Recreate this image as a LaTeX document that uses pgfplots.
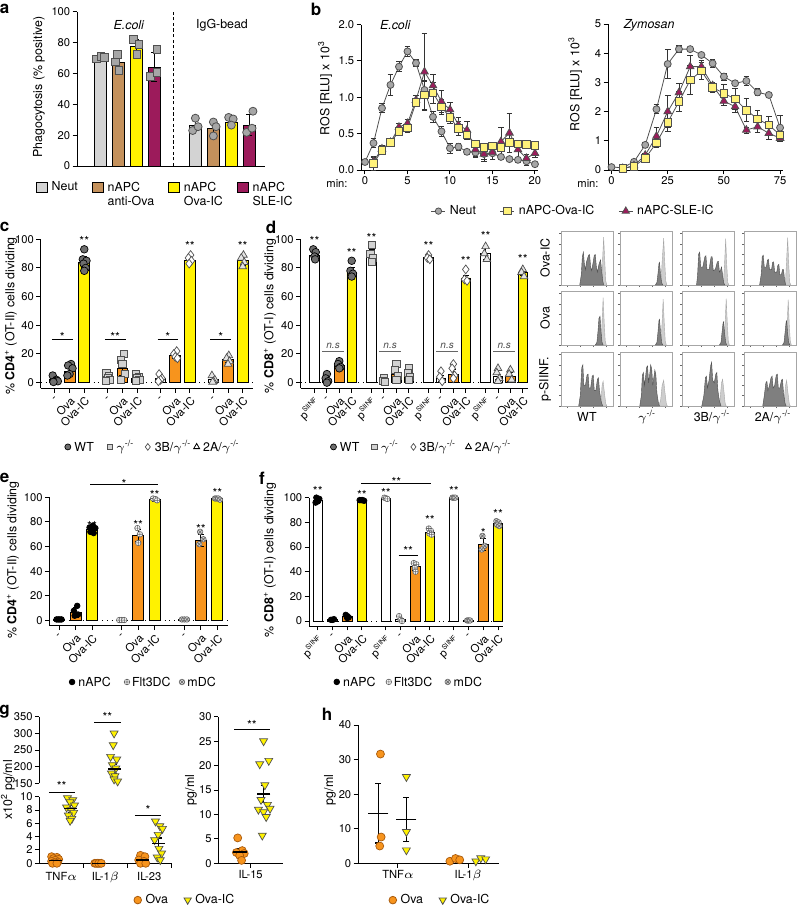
\documentclass[border=0pt]{standalone}
\usepackage{pgfplots}
\pgfplotsset{compat=1.18}
\usepackage{fontspec}
\setmainfont{TeX Gyre Heros}

\definecolor{neut}{HTML}{D3D3D3}
\definecolor{tanb}{HTML}{C4915C}
\definecolor{ylw}{HTML}{FFF200}
\definecolor{sle}{HTML}{9C1B5B}
\definecolor{org}{HTML}{F7941D}
\definecolor{orgd}{HTML}{A85A0C}
\definecolor{lyel}{HTML}{FFF27A}
\definecolor{ptg}{HTML}{A6A6A6}
\definecolor{dkg}{HTML}{505050}
\definecolor{wtg}{HTML}{6E6E6E}
\definecolor{lg}{HTML}{D2D2D2}
\definecolor{hdk}{HTML}{7F7F7F}
\definecolor{hlt}{HTML}{CDCDCD}

\newcommand{\fs}{\fontsize{6.2}{7.2}\selectfont}
\newcommand{\tfs}{\fontsize{5.6}{6.6}\selectfont}
\newcommand{\ko}{$\gamma$\textsuperscript{-/-}}
\newcommand{\pS}{p\textsuperscript{\fontsize{3.4}{4}\selectfont SIINF}}

\tikzset{sig/.style={font=\fs, anchor=base, inner sep=0pt},
  ns/.style={font=\fontsize{5}{6}\selectfont\itshape, anchor=base, inner sep=0pt, text=black!70},
  lt/.style={font=\fs, anchor=west, inner sep=0pt}}

\pgfplotsset{
 base/.style={scale only axis, clip=false,
  axis x line*=bottom, axis y line*=left,
  axis line style={line width=0.5pt, black},
  tick align=outside, major tick length=2.2pt,
  every tick/.append style={black, line width=0.5pt},
  tick label style={font=\tfs, inner sep=1pt},
  /pgf/number format/assume math mode=true,
  legend style={draw=none, fill=none, font=\fs, inner sep=0pt, outer sep=0pt},
  legend cell align=left,
  legend image code/.code={\draw[mark repeat=2,mark phase=2,##1] plot coordinates {(0pt,0pt)(3.5pt,0pt)(7pt,0pt)};},
 },
 bar/.style={ybar, bar shift=0pt, draw=black, line width=0.45pt,
  error bars/y dir=both, error bars/y explicit,
  error bars/error bar style={black, line width=0.45pt},
  error bars/error mark options={rotate=90, black, mark size=1.5pt, line width=0.45pt}},
 errs/.style={error bars/y dir=both, error bars/y explicit,
  error bars/error bar style={black!80, line width=0.4pt},
  error bars/error mark options={rotate=90, black!80, mark size=1.4pt, line width=0.4pt}},
 meanbar/.style={only marks, mark=-, mark options={black, line width=0.6pt},
  error bars/y dir=both, error bars/y explicit,
  error bars/error bar style={black, line width=0.6pt},
  error bars/error mark options={rotate=90, black, mark size=1.5pt, line width=0.6pt}},
 hist/.style={scale only axis, width=26pt, height=27pt, xmin=0, xmax=100, ymin=0, ymax=105,
  anchor=south west, axis line style={black!35, line width=0.3pt},
  xtick={12,37,62,87}, ytick={0,20,...,100}, xticklabels={}, yticklabels={},
  xtick pos=left, ytick pos=left, tick align=outside, major tick length=1pt,
  every tick/.append style={black!60, line width=0.25pt}},
 wt/.style={only marks, mark=*, mark size=1.9pt, mark options={fill=wtg, draw=black, line width=0.35pt}},
 gko/.style={only marks, mark=square*, mark size=1.8pt, mark options={fill=lg, draw=dkg, line width=0.35pt}},
 tb/.style={only marks, mark=diamond*, mark size=2.2pt, mark options={fill=white, draw=dkg, line width=0.35pt}},
 ta/.style={only marks, mark=triangle*, mark size=2.2pt, mark options={fill=lg!60!white, draw=dkg, line width=0.35pt}},
 napc/.style={only marks, mark=*, mark size=1.4pt, mark options={fill=black, draw=black}},
 flt/.style={only marks, mark=oplus*, mark size=1.4pt, mark options={fill=white, draw=black!60, line width=0.3pt}},
 mdc/.style={only marks, mark=otimes*, mark size=1.4pt, mark options={fill=lg, draw=black!60, line width=0.3pt}},
 ova/.style={only marks, mark=*, mark size=2pt, mark options={fill=org, draw=orgd, line width=0.35pt}},
 ovaic/.style={only marks, mark=triangle*, mark size=2.3pt, mark options={rotate=180, fill=ylw, draw=dkg, line width=0.35pt}},
}

\newcommand{\hist}[4]{%
 \begin{axis}[hist, at={(#1pt,#2pt)}]
  \addplot[fill=hlt, draw=black!35, line width=0.2pt] coordinates {#3} \closedcycle;
  \addplot[fill=hdk, draw=black!70, line width=0.2pt] coordinates {#4} \closedcycle;
 \end{axis}}

\begin{document}
\begin{tikzpicture}
\path[use as bounding box] (0,0) rectangle (399pt,-452.5pt);

% panel letters
\foreach \l/\x/\y in {a/2.3/-4.5, b/158/-4.5, c/2.3/-113.5, d/135.5/-113.5, e/2.3/-239, f/131/-239, g/2.3/-356, h/163.5/-357}
  \node[font=\bfseries\fontsize{8.5}{9}\selectfont, inner sep=0pt] at (\x pt,\y pt) {\l};

% ---------------- panel a ----------------
\node[rotate=90, font=\fs] at (19.5pt,-43.5pt) {Phagocytosis (\% positive)};
\begin{axis}[base, at={(38.5pt,-83pt)}, anchor=south west, width=94pt, height=77.15pt,
  xmin=-1.28, xmax=9.17, ymin=0, ymax=100, xtick=\empty, ytick={0,20,...,100},
  legend columns=4,
  legend style={at={(-0.218,-0.071)}, anchor=north west, /tikz/every even column/.append style={column sep=5pt}}]
\addplot[bar, bar width=6pt, fill=neut, forget plot] coordinates {(0,70) +- (0,1) (5.3,26.5) +- (0,3.5)};
\addplot[bar, bar width=6pt, fill=tanb, forget plot] coordinates {(1,67) +- (0,4.5) (6.3,24.5) +- (0,4.5)};
\addplot[bar, bar width=6pt, fill=ylw, forget plot] coordinates {(2,77.5) +- (0,4.5) (7.3,28.5) +- (0,2.5)};
\addplot[bar, bar width=6pt, fill=sle, forget plot] coordinates {(3,64) +- (0,9.5) (8.3,26.5) +- (0,7)};
\addplot[only marks, mark=square*, mark size=1.9pt, mark options={fill=ptg, draw=dkg, line width=0.4pt}, forget plot]
  coordinates {(-0.2,69.5)(0.05,71.2)(0.25,70.3) (0.95,72.5)(0.85,67.5)(1.05,62) (1.85,82)(2.15,79)(2.05,72.5) (3.15,75.5)(2.8,58)(3.15,60.5)};
\addplot[only marks, mark=*, mark size=2pt, mark options={fill=ptg, draw=dkg, line width=0.4pt}, forget plot]
  coordinates {(5.3,31)(5.15,23)(5.45,25.5) (6.3,28.5)(6.45,25.5)(6.3,19.5) (7.15,31.5)(7.4,30.5)(7.3,26.5) (8.5,35.5)(8.15,21.8)(8.45,24.5)};
\draw[black, line width=0.45pt, dash pattern=on 1.6pt off 1.2pt] (axis cs:4.06,0) -- (axis cs:4.06,100);
\node[font=\fs\itshape] at (axis cs:1.6,91.4) {E.coli};
\node[font=\fs] at (axis cs:6.78,91.4) {IgG-bead};
\addlegendimage{legend image code/.code={\draw[fill=neut,draw=black,line width=0.45pt] (0pt,-2.7pt) rectangle (5.4pt,2.7pt);}}
\addlegendentry{Neut}
\addlegendimage{legend image code/.code={\draw[fill=tanb,draw=black,line width=0.45pt] (0pt,-2.7pt) rectangle (5.4pt,2.7pt);}}
\addlegendentry{\begin{tabular}[t]{@{}l@{}}nAPC\\anti-Ova\end{tabular}}
\addlegendimage{legend image code/.code={\draw[fill=ylw,draw=black,line width=0.45pt] (0pt,-2.7pt) rectangle (5.4pt,2.7pt);}}
\addlegendentry{\begin{tabular}[t]{@{}l@{}}nAPC\\Ova-IC\end{tabular}}
\addlegendimage{legend image code/.code={\draw[fill=sle,draw=black,line width=0.45pt] (0pt,-2.7pt) rectangle (5.4pt,2.7pt);}}
\addlegendentry{\begin{tabular}[t]{@{}l@{}}nAPC\\SLE-IC\end{tabular}}
\end{axis}

% ---------------- panel b ----------------
\node[rotate=90, font=\fs] at (162.5pt,-44pt) {ROS [RLU] x 10\textsuperscript{3}};
\node[font=\tfs] at (168.5pt,-92pt) {min:};
\begin{axis}[base, at={(180.5pt,-85pt)}, anchor=south west, width=88.25pt, height=72.75pt,
  xmin=-0.47, xmax=20.3, ymin=0, ymax=2, xtick={0,5,...,20}, ytick={0,0.5,...,2},
  y tick label style={/pgf/number format/fixed, /pgf/number format/fixed zerofill, /pgf/number format/precision=1},
  legend columns=3,
  legend style={at={(0.397,-0.213)}, anchor=north west, /tikz/every even column/.append style={column sep=10pt}}]
\addplot[forget plot, dkg, line width=0.4pt, mark=*, mark size=1.75pt, mark options={fill=ptg, draw=dkg, solid}, errs] coordinates {
(0,0.11)+-(0,0.02) (1,0.37)+-(0,0.06) (2,0.85)+-(0,0.06) (3,1.17)+-(0,0.15) (4,1.42)+-(0,0.07) (5,1.63)+-(0,0.07) (6,1.47)+-(0,0.05) (7,1.1)+-(0,0.12) (8,0.73)+-(0,0.07) (9,0.53)+-(0,0.07) (10,0.3)+-(0,0.07) (11,0.32)+-(0,0.05) (12,0.25)+-(0,0.04) (13,0.24)+-(0,0.05) (14,0.22)+-(0,0.08) (15,0.23)+-(0,0.08) (16,0.18)+-(0,0.03) (17,0.15)+-(0,0.03) (18,0.14)+-(0,0.03) (19,0.12)+-(0,0.05) (20,0.08)+-(0,0.03)};
\addplot[forget plot, dkg, line width=0.4pt, mark=triangle*, mark size=2.2pt, mark options={fill=sle, draw=dkg, solid}, errs] coordinates {
(1,0.12)+-(0,0.05) (2,0.29)+-(0,0.05) (3,0.38)+-(0,0.04) (4,0.59)+-(0,0.05) (5,0.64)+-(0,0.05) (6,0.96)+-(0,0.06) (7,1.35)+-(0,0.53) (8,1.16)+-(0,0.15) (9,0.94)+-(0,0.15) (10,0.83)+-(0,0.1) (11,0.62)+-(0,0.1) (12,0.55)+-(0,0.12) (13,0.28)+-(0,0.1) (14,0.22)+-(0,0.1) (15,0.24)+-(0,0.1) (16,0.39)+-(0,0.2) (17,0.51)+-(0,0.27) (18,0.28)+-(0,0.1) (19,0.16)+-(0,0.05) (20,0.23)+-(0,0.06)};
\addplot[forget plot, dkg, line width=0.4pt, mark=square*, mark size=1.9pt, mark options={fill=lyel, draw=dkg, solid}, errs] coordinates {
(1,0.09)+-(0,0.1) (2,0.27)+-(0,0.05) (3,0.38)+-(0,0.04) (4,0.53)+-(0,0.04) (5,0.58)+-(0,0.06) (6,0.93)+-(0,0.05) (7,1.03)+-(0,0.2) (8,1.06)+-(0,0.15) (9,0.87)+-(0,0.1) (10,0.72)+-(0,0.08) (11,0.57)+-(0,0.1) (12,0.48)+-(0,0.06) (13,0.36)+-(0,0.05) (14,0.31)+-(0,0.04) (15,0.33)+-(0,0.04) (16,0.31)+-(0,0.05) (17,0.38)+-(0,0.05) (18,0.36)+-(0,0.05) (19,0.35)+-(0,0.04) (20,0.34)+-(0,0.05)};
\node[font=\fs\itshape, anchor=west] at (axis cs:0.94,1.99) {E.coli};
\addlegendimage{dkg, line width=0.4pt, mark=*, mark size=1.6pt, mark options={fill=ptg, draw=dkg}}
\addlegendentry{Neut}
\addlegendimage{dkg, line width=0.4pt, mark=square*, mark size=1.8pt, mark options={fill=lyel, draw=dkg}}
\addlegendentry{nAPC-Ova-IC}
\addlegendimage{dkg, line width=0.4pt, mark=triangle*, mark size=2.1pt, mark options={fill=sle, draw=dkg}}
\addlegendentry{nAPC-SLE-IC}
\end{axis}

\node[rotate=90, font=\fs] at (287.5pt,-42pt) {ROS [RLU] x 10\textsuperscript{3}};
\node[font=\tfs] at (294pt,-92pt) {min:};
\begin{axis}[base, at={(304pt,-85pt)}, anchor=south west, width=87.5pt, height=73pt,
  xmin=-1.56, xmax=76.3, ymin=0, ymax=5, xtick={0,25,50,75}, ytick={0,1,...,5}]
\addplot[forget plot, dkg, line width=0.4pt, mark=*, mark size=1.75pt, mark options={fill=ptg, draw=dkg, solid}, errs] coordinates {
(0,0.1)+-(0,0.02) (5,0.08)+-(0,0.02) (10,0.28)+-(0,0.05) (15,0.86)+-(0,0.08) (20,2.08)+-(0,0.15) (25,3.63)+-(0,0.5) (30,4.14)+-(0,0.12) (35,4.14)+-(0,0.05) (40,3.94)+-(0,0.08) (45,3.65)+-(0,0.15) (50,3.2)+-(0,0.12) (55,2.97)+-(0,0.06) (60,3.05)+-(0,0.15) (65,2.66)+-(0,0.12) (70,2.57)+-(0,0.05) (75,1.45)+-(0,0.42)};
\addplot[forget plot, dkg, line width=0.4pt, mark=triangle*, mark size=2.2pt, mark options={fill=sle, draw=dkg, solid}, errs] coordinates {
(5,0.05)+-(0,0.02) (10,0.15)+-(0,0.05) (15,0.51)+-(0,0.06) (20,1.16)+-(0,0.3) (25,2.0)+-(0,0.55) (30,2.65)+-(0,0.3) (35,3.54)+-(0,0.4) (40,3.54)+-(0,0.2) (45,2.89)+-(0,0.1) (50,2.36)+-(0,0.15) (55,2.17)+-(0,0.2) (60,1.37)+-(0,0.1) (65,1.48)+-(0,0.2) (70,1.26)+-(0,0.2) (75,1.09)+-(0,0.1)};
\addplot[forget plot, dkg, line width=0.4pt, mark=square*, mark size=1.9pt, mark options={fill=lyel, draw=dkg, solid}, errs] coordinates {
(5,0.05)+-(0,0.02) (10,0.13)+-(0,0.05) (15,0.4)+-(0,0.08) (20,0.93)+-(0,0.15) (25,1.63)+-(0,0.3) (30,2.34)+-(0,0.35) (35,3.08)+-(0,0.5) (40,3.39)+-(0,0.3) (45,2.82)+-(0,0.15) (50,2.63)+-(0,0.3) (55,2.43)+-(0,0.35) (60,2.05)+-(0,0.4) (65,1.75)+-(0,0.3) (70,1.54)+-(0,0.3) (75,1.2)+-(0,0.2)};
\node[font=\fs\itshape, anchor=west] at (axis cs:2.4,4.97) {Zymosan};
\end{axis}

% ---------------- panel c ----------------
\node[rotate=90, font=\fs] at (5.5pt,-158pt) {\% \textbf{CD4}\textsuperscript{+} (OT-II) cells dividing};
\begin{axis}[base, at={(20.35pt,-194.2pt)}, anchor=south west, width=106.15pt, height=74.57pt,
  xmin=-0.97, xmax=13.5, ymin=-4, ymax=100, ytick={0,20,...,100},
  xtick={0,1,2,3.6,4.6,5.6,7.2,8.2,9.2,10.8,11.8,12.8},
  xticklabels={-,Ova,Ova-IC,-,Ova,Ova-IC,-,Ova,Ova-IC,-,Ova,Ova-IC},
  xticklabel style={rotate=45, anchor=north east, inner sep=1pt}]
\draw[black, line width=0.4pt, dotted] (axis cs:-0.97,0) -- (axis cs:13.5,0);
\addplot[bar, bar width=5.35pt, fill=white, forget plot] coordinates {(0,2)+-(0,1.5) (3.6,4)+-(0,1.5) (7.2,3)+-(0,1.5) (10.8,2)+-(0,1.5)};
\addplot[bar, bar width=5.35pt, fill=org, forget plot] coordinates {(1,8)+-(0,3) (4.6,10)+-(0,5) (8.2,19)+-(0,2) (11.8,16)+-(0,2)};
\addplot[bar, bar width=5.35pt, fill=ylw, forget plot] coordinates {(2,84)+-(0,4) (5.6,3)+-(0,2) (9.2,85.5)+-(0,2) (12.8,85)+-(0,3)};
\addplot[wt, forget plot] coordinates {(-0.15,5)(0.1,2)(0,1)(0.2,1)(-0.1,0.5) (1.1,13)(0.9,12)(1.2,10)(1,6)(0.85,5) (2,93)(1.9,86)(2.15,85)(1.95,83)(2.1,80)(2,78)};
\addplot[gko, forget plot] coordinates {(3.5,7)(3.7,5)(3.6,3)(3.75,2)(3.45,1) (4.7,20)(4.5,16)(4.6,13)(4.75,6)(4.5,2) (5.5,6)(5.7,4)(5.6,3)(5.75,2)(5.5,1)};
\addplot[tb, forget plot] coordinates {(7.1,6)(7.3,3)(7.2,2)(7.05,1) (8.3,22)(8.1,20)(8.2,18)(8.35,17) (9.25,89)(9.1,87)(9.3,85)(9.15,83)};
\addplot[ta, forget plot] coordinates {(10.7,5)(10.9,2)(10.8,1)(10.75,0.5) (11.85,19)(11.7,17)(11.9,15)(11.8,13) (12.85,89)(12.7,87)(12.9,84)(12.8,81)};
\foreach \b/\s in {0/*, 3.6/**, 7.2/*, 10.8/*}{
  \edef\tmp{\noexpand\draw[black, line width=0.5pt] (axis cs:\b-0.2,30) -- (axis cs:\b+1.22,30);}\tmp
  \edef\tmp{\noexpand\node[sig] at (axis cs:\b+0.5,28.5) {\s};}\tmp }
\node[sig] at (axis cs:2,96) {**};
\node[sig] at (axis cs:9.2,92) {**};
\node[sig] at (axis cs:12.8,92) {**};
% key
\addplot[wt, mark size=1.5pt, forget plot] coordinates {(0.88,-44.8)};
\addplot[gko, mark size=1.4pt, forget plot] coordinates {(3.74,-44.8)};
\addplot[tb, mark size=1.7pt, forget plot] coordinates {(6.33,-44.8)};
\addplot[ta, mark size=1.7pt, mark options={fill=white}, forget plot] coordinates {(9.66,-44.8)};
\node[lt] at (axis cs:1.3,-44.8) {WT};
\node[lt] at (axis cs:4.16,-44.8) {\ko};
\node[lt] at (axis cs:6.78,-44.8) {3B/\ko};
\node[lt] at (axis cs:10.08,-44.8) {2A/\ko};
\end{axis}

% ---------------- panel d ----------------
\node[rotate=90, font=\fs] at (135pt,-158pt) {\% \textbf{CD8}\textsuperscript{+} (OT-I) cells dividing};
\begin{axis}[base, at={(150.25pt,-194.2pt)}, anchor=south west, width=114pt, height=74.57pt,
  xmin=-1.13, xmax=17.26, ymin=-4, ymax=100, ytick={0,20,...,100},
  xtick={0,1,2,3,4.6,5.6,6.6,7.6,9.2,10.2,11.2,12.2,13.8,14.8,15.8,16.8},
  xticklabels={\pS,-,Ova,Ova-IC,\pS,-,Ova,Ova-IC,\pS,-,Ova,Ova-IC,\pS,-,Ova,Ova-IC},
  xticklabel style={rotate=45, anchor=north east, inner sep=1pt}]
\draw[black, line width=0.4pt, dotted] (axis cs:-1.13,0) -- (axis cs:17.26,0);
\addplot[bar, bar width=4.75pt, fill=white, forget plot] coordinates {(0,89)+-(0,3) (4.6,88)+-(0,5) (9.2,87)+-(0,1) (13.8,90)+-(0,4) (1,2)+-(0,2) (5.6,1)+-(0,1) (10.2,3)+-(0,2) (14.8,4)+-(0,2)};
\addplot[bar, bar width=4.75pt, fill=org, forget plot] coordinates {(2,12)+-(0,2) (6.6,6)+-(0,4) (11.2,6)+-(0,3) (15.8,4)+-(0,3)};
\addplot[bar, bar width=4.75pt, fill=ylw, forget plot] coordinates {(3,77)+-(0,3) (7.6,5)+-(0,3) (12.2,73)+-(0,2) (16.8,77)+-(0,2)};
\addplot[wt, forget plot] coordinates {(-0.1,93)(0.1,91)(0,88)(0.05,86) (1,6)(0.9,3)(1.1,1)(1,0) (2,15)(1.9,13)(2.1,11)(2,10) (3,85)(2.9,78)(3.1,76)(3,74)};
\addplot[gko, forget plot] coordinates {(4.6,96)(4.5,90)(4.7,87)(4.6,84) (5.6,3)(5.5,1)(5.7,0.5) (6.6,13)(6.5,9)(6.7,5)(6.6,2) (7.6,10)(7.5,7)(7.7,4)(7.6,2)};
\addplot[tb, forget plot] coordinates {(9.2,89)(9.1,87)(9.3,86) (10.2,8)(10.1,4)(10.3,1) (11.2,13)(11.1,10)(11.3,5)(11.2,3) (12.2,79)(12.1,72)(12.3,71)};
\addplot[ta, forget plot] coordinates {(13.8,95)(13.7,90)(13.9,86) (14.8,10)(14.7,7)(14.9,3)(14.8,1) (15.8,9)(15.7,6)(15.9,2) (16.8,79)(16.7,77)(16.9,74)};
\foreach \b in {0,4.6,9.2,13.8}{
  \edef\tmp{\noexpand\draw[black!60, line width=0.6pt] (axis cs:\b+0.62,21.6) -- (axis cs:\b+2.36,21.6);}\tmp
  \edef\tmp{\noexpand\node[ns] at (axis cs:\b+1.5,23.5) {n.s};}\tmp }
\node[sig] at (axis cs:0,96) {**};
\node[sig] at (axis cs:3,87.5) {**};
\node[sig] at (axis cs:4.6,98) {**};
\node[sig] at (axis cs:9.2,92) {**};
\node[sig] at (axis cs:12.2,81.5) {**};
\node[sig] at (axis cs:13.8,99) {**};
\node[sig] at (axis cs:16.8,83) {**};
% key
\addplot[wt, mark size=1.5pt, forget plot] coordinates {(1.53,-44.8)};
\addplot[gko, mark size=1.4pt, forget plot] coordinates {(4.84,-44.8)};
\addplot[tb, mark size=1.7pt, forget plot] coordinates {(7.98,-44.8)};
\addplot[ta, mark size=1.7pt, mark options={fill=white}, forget plot] coordinates {(12.42,-44.8)};
\node[lt] at (axis cs:2.02,-44.8) {WT};
\node[lt] at (axis cs:5.32,-44.8) {\ko};
\node[lt] at (axis cs:8.45,-44.8) {3B/\ko};
\node[lt] at (axis cs:12.9,-44.8) {2A/\ko};
\end{axis}

% ---------------- histograms ----------------
\hist{280.5}{-142.5}{(76,0)(79,10)(80,50)(82,93)(84,50)(86,8)(88,0)}{(36,0)(39,20)(41,55)(43,64)(45,40)(47,30)(49,45)(53,58)(55,59)(57,35)(59,28)(62,45)(64,58)(66,59)(68,35)(70,25)(73,40)(76,49)(78,30)(80,10)(82,0)}
\hist{310}{-142.5}{(76,0)(79,8)(81,45)(84,91)(86,45)(88,8)(90,0)}{(68,0)(71,5)(73,22)(75,42)(76,44)(78,20)(80,5)(82,0)}
\hist{341}{-142.5}{(78,0)(80,10)(82,45)(84,90)(86,40)(88,5)(90,0)}{(28,0)(30,20)(32,60)(34,64)(36,35)(40,35)(44,55)(46,57)(48,30)(52,30)(56,55)(58,55)(60,28)(64,30)(68,45)(70,46)(72,25)(74,28)(76,35)(78,20)(80,5)(82,0)}
\hist{372}{-142.5}{(78,0)(80,10)(82,50)(84,92)(86,40)(88,5)(90,0)}{(30,0)(33,20)(35,55)(37,58)(39,35)(43,35)(45,48)(47,50)(49,30)(53,30)(55,44)(57,45)(59,25)(63,25)(65,38)(67,40)(69,20)(72,20)(74,30)(76,30)(78,10)(80,0)}
\hist{280.5}{-172.5}{(74,0)(77,8)(79,45)(81,92)(83,45)(85,8)(87,0)}{(66,0)(69,5)(71,25)(73,52)(75,56)(77,25)(79,5)(81,0)}
\hist{310}{-172.5}{(76,0)(79,8)(81,45)(83,89)(85,45)(87,8)(89,0)}{(68,0)(71,5)(73,25)(75,48)(76,50)(78,25)(80,5)(82,0)}
\hist{341}{-172.5}{(78,0)(81,8)(83,45)(85,90)(87,45)(89,8)(91,0)}{(72,0)(75,5)(77,25)(79,43)(80,45)(82,22)(84,5)(86,0)}
\hist{372}{-172.5}{(78,0)(81,8)(83,40)(85,88)(87,40)(89,8)(91,0)}{(74,0)(77,5)(79,25)(81,45)(82,47)(84,22)(86,5)(88,0)}
\hist{280.5}{-203}{(74,0)(77,10)(79,40)(81,48)(83,30)(86,5)(88,0)}{(34,0)(37,20)(40,75)(42,80)(44,40)(47,40)(50,60)(52,62)(54,35)(57,35)(60,58)(62,60)(64,30)(67,30)(70,52)(72,55)(74,30)(77,10)(80,0)}
\hist{310}{-203}{(74,0)(78,10)(81,40)(84,50)(86,30)(89,5)(91,0)}{(38,0)(41,20)(43,60)(45,65)(47,40)(49,55)(51,75)(53,78)(55,45)(57,60)(59,80)(61,72)(63,40)(65,55)(67,70)(69,60)(71,25)(74,5)(76,0)}
\hist{341}{-203}{(70,0)(73,10)(76,45)(78,52)(80,35)(83,5)(85,0)}{(38,0)(42,20)(45,55)(47,58)(49,35)(52,50)(55,78)(57,85)(59,50)(62,45)(65,62)(67,65)(69,30)(72,10)(75,0)}
\hist{372}{-203}{(74,0)(77,10)(80,40)(82,50)(84,30)(87,5)(89,0)}{(36,0)(39,20)(42,45)(44,48)(46,30)(49,40)(52,55)(54,58)(56,35)(59,40)(62,60)(64,62)(66,35)(69,35)(72,50)(74,52)(76,25)(79,5)(81,0)}
\node[rotate=90, font=\fs] at (272.5pt,-129pt) {Ova-IC};
\node[rotate=90, font=\fs] at (272.5pt,-159pt) {Ova};
\node[rotate=90, font=\fs] at (272.5pt,-189.5pt) {p-SIINF.};
\node[font=\fs] at (293.5pt,-208.5pt) {WT};
\node[font=\fs] at (323.5pt,-208.5pt) {\ko};
\node[font=\fs] at (356pt,-208.5pt) {3B/\ko};
\node[font=\fs] at (386.5pt,-208.5pt) {2A/\ko};

% ---------------- panel e ----------------
\node[rotate=90, font=\fs] at (6.5pt,-280pt) {\% \textbf{CD4}\textsuperscript{+} (OT-II) cells dividing};
\begin{axis}[base, at={(24.65pt,-312.8pt)}, anchor=south west, width=89.35pt, height=64.17pt,
  xmin=-0.59, xmax=10.24, ymin=-4, ymax=100, ytick={0,20,...,100},
  xtick={0,1,2,3.8,4.8,5.8,7.6,8.6,9.6},
  xticklabels={-,Ova,Ova-IC,-,Ova,Ova-IC,-,Ova,Ova-IC},
  xticklabel style={rotate=45, anchor=north east, inner sep=1pt}]
\draw[black, line width=0.4pt, dotted] (axis cs:-0.59,0) -- (axis cs:10.24,0);
\addplot[bar, bar width=5.5pt, fill=white, forget plot] coordinates {(0,1)+-(0,0.3) (3.8,0.5)+-(0,0.2) (7.6,0.8)+-(0,0.3)};
\addplot[bar, bar width=5.5pt, fill=org, forget plot] coordinates {(1,7)+-(0,4) (4.8,69)+-(0,5) (8.6,65)+-(0,5)};
\addplot[bar, bar width=5.5pt, fill=ylw, forget plot] coordinates {(2,74)+-(0,3) (5.8,98)+-(0,1) (9.6,99)+-(0,0.8)};
\addplot[napc, forget plot] coordinates {(-0.15,1)(-0.05,1)(0.05,1)(0.15,1) (1.1,12)(0.9,8)(1.15,5)(0.95,4) (2.05,77)(1.85,75.5)(2.2,75)(1.9,72)(2.1,71)};
\addplot[flt, forget plot] coordinates {(3.65,0.5)(3.8,0.5)(3.95,0.5) (4.75,75)(4.9,70)(4.8,63) (5.7,99)(5.85,98.5)(5.95,97.5)};
\addplot[mdc, forget plot] coordinates {(7.45,1)(7.6,1)(7.75,1) (8.55,72)(8.75,66)(8.5,62) (9.45,99)(9.55,99)(9.65,99)(9.75,98)};
\node[sig] at (axis cs:2,73) {**};
\node[sig] at (axis cs:4.8,74) {**};
\node[sig] at (axis cs:5.8,98.5) {**};
\node[sig] at (axis cs:8.6,71) {**};
\node[sig] at (axis cs:9.6,100) {**};
\draw[black, line width=0.5pt] (axis cs:1.88,110) -- (axis cs:6.0,110);
\node[sig] at (axis cs:3.94,107) {*};
% key
\addplot[napc, forget plot] coordinates {(0.79,-49.7)};
\addplot[flt, forget plot] coordinates {(4.12,-49.7)};
\addplot[mdc, forget plot] coordinates {(7.45,-49.7)};
\node[lt] at (axis cs:1.15,-49.7) {nAPC};
\node[lt] at (axis cs:4.4,-49.7) {Flt3DC};
\node[lt] at (axis cs:7.76,-49.7) {mDC};
\end{axis}

% ---------------- panel f ----------------
\node[rotate=90, font=\fs] at (135pt,-280pt) {\% \textbf{CD8}\textsuperscript{+} (OT-I) cells dividing};
\begin{axis}[base, at={(154.5pt,-313pt)}, anchor=south west, width=97pt, height=64.17pt,
  xmin=-0.6, xmax=12.6, ymin=-4, ymax=100, ytick={0,20,...,100},
  xtick={0,1,2,3,4.63,5.63,6.63,7.63,9.26,10.26,11.26,12.26},
  xticklabels={\pS,-,Ova,Ova-IC,\pS,-,Ova,Ova-IC,\pS,-,Ova,Ova-IC},
  xticklabel style={rotate=45, anchor=north east, inner sep=1pt}]
\draw[black, line width=0.4pt, dotted] (axis cs:-0.6,0) -- (axis cs:12.6,0);
\addplot[bar, bar width=4.75pt, fill=white, forget plot] coordinates {(0,98)+-(0,2) (4.63,99.5)+-(0,0.5) (9.26,100)+-(0,0.3) (1,1)+-(0,0.3) (5.63,1)+-(0,1) (10.26,0.5)+-(0,0.2)};
\addplot[bar, bar width=4.75pt, fill=org, forget plot] coordinates {(2,3.5)+-(0,1) (6.63,44)+-(0,3) (11.26,62)+-(0,5)};
\addplot[bar, bar width=4.75pt, fill=ylw, forget plot] coordinates {(3,97.5)+-(0,0.5) (7.63,72)+-(0,2) (12.26,79)+-(0,2)};
\addplot[napc, forget plot] coordinates {(-0.1,100)(0.1,99)(0,97)(-0.15,96) (0.9,1)(1,1)(1.1,1.5) (1.9,5)(2,4)(2.1,3)(2,2.5) (2.85,98)(2.95,98)(3.05,98)(3.15,97.5)};
\addplot[flt, forget plot] coordinates {(4.53,100)(4.63,99.5)(4.73,99) (5.53,4)(5.63,1)(5.73,0) (6.53,47)(6.7,46)(6.6,43)(6.65,40) (7.55,75)(7.7,73)(7.6,71)(7.75,70)};
\addplot[mdc, forget plot] coordinates {(9.16,100)(9.26,100)(9.36,100) (10.16,0.5)(10.26,0.5)(10.36,0.5) (11.2,69)(11.35,61)(11.15,58) (12.15,81)(12.3,80)(12.2,78)(12.35,77)};
\node[sig] at (axis cs:0,101.5) {**};
\node[sig] at (axis cs:3,98.7) {**};
\node[sig] at (axis cs:4.63,100) {**};
\draw[black, line width=0.5pt] (axis cs:5.5,53.4) -- (axis cs:6.8,53.4);
\node[sig] at (axis cs:6.15,53) {**};
\node[sig] at (axis cs:7.63,78) {**};
\node[sig] at (axis cs:9.26,101.5) {**};
\node[sig] at (axis cs:11.26,68) {*};
\node[sig] at (axis cs:12.26,83.4) {**};
\draw[black, line width=0.5pt] (axis cs:2.97,111.6) -- (axis cs:7.73,111.6);
\node[sig] at (axis cs:5.35,108.7) {**};
% key
\addplot[napc, forget plot] coordinates {(1.29,-49.3)};
\addplot[flt, forget plot] coordinates {(4.83,-49.3)};
\addplot[mdc, forget plot] coordinates {(8.84,-49.3)};
\node[lt] at (axis cs:1.7,-49.3) {nAPC};
\node[lt] at (axis cs:5.14,-49.3) {Flt3DC};
\node[lt] at (axis cs:9.22,-49.3) {mDC};
\end{axis}

% ---------------- panel g ----------------
\node[rotate=90, font=\fs] at (4pt,-395pt) {x10\textsuperscript{2} pg/ml};
\begin{axis}[base, axis x line=none, at={(19.65pt,-391.65pt)}, anchor=south west, width=66pt, height=33.3pt,
  xmin=0.5, xmax=3.5, ymin=150, ymax=350, ytick={150,200,...,350}]
\addplot[ovaic, forget plot] coordinates {(2.2,300)(2.18,265)(2.12,230)(2.26,222)(2.16,205)(2.24,195)(2.14,180)(2.22,172)(2.2,162)(2.28,156)};
\addplot[meanbar, mark size=3.2pt, forget plot] coordinates {(2.2,193) +- (0,13)};
\draw[black, line width=0.5pt] (axis cs:1.75,332) -- (axis cs:2.35,332);
\node[sig] at (axis cs:2.05,336) {**};
\end{axis}
\begin{axis}[base, at={(19.65pt,-431.65pt)}, anchor=south west, width=66pt, height=33.3pt,
  xmin=0.5, xmax=3.5, ymin=0, ymax=10, ytick={0,2,...,10},
  xtick={1.5,2.5,3.5}, xticklabels={},
  legend columns=2,
  legend style={at={(0.717,-0.40)}, anchor=north west, /tikz/every even column/.append style={column sep=6pt}}]
\addplot[ova, forget plot] coordinates {(0.78,1.0)(0.9,0.9)(0.82,0.7)(0.94,0.6)(0.86,0.45)(0.78,0.3)(0.92,0.2)(0.84,0.1)(0.8,0)(0.9,0)
  (1.76,0)(1.82,0)(1.88,0)(1.79,0)(1.85,0)(1.91,0)
  (2.8,1.2)(2.9,1.0)(2.76,0.5)(2.88,0.3)(2.8,0)(2.92,0)};
\addplot[ovaic, forget plot] coordinates {(1.14,9.8)(1.26,9.5)(1.2,9.2)(1.3,8.7)(1.12,8.4)(1.22,8.0)(1.28,7.6)(1.16,7.2)(1.24,6.7)(1.2,6.4)
  (3.14,6.3)(3.24,5.6)(3.3,5.2)(3.2,4.3)(3.12,3.5)(3.22,2.2)(3.28,1.5)(3.18,0.9)(3.25,0.5)};
\addplot[meanbar, mark size=3.2pt, forget plot] coordinates {(0.86,0.45)+-(0,0.12) (1.21,8.2)+-(0,0.55) (1.84,0)+-(0,0) (2.84,0.5)+-(0,0.25) (3.21,3.0)+-(0,0.8)};
\draw[black, line width=0.5pt] (axis cs:0.72,10.6) -- (axis cs:1.3,10.6);
\node[sig] at (axis cs:1.01,10.9) {**};
\draw[black, line width=0.5pt] (axis cs:2.67,7.25) -- (axis cs:3.27,7.25);
\node[sig] at (axis cs:2.97,7.4) {*};
\node[font=\tfs, anchor=base, yshift=-8.5pt] at (axis cs:1,0) {TNF$\alpha$};
\node[font=\tfs, anchor=base, yshift=-8.5pt] at (axis cs:2,0) {IL-1$\beta$};
\node[font=\tfs, anchor=base, yshift=-8.5pt] at (axis cs:3,0) {IL-23};
\addlegendimage{only marks, mark=*, mark size=1.9pt, mark options={fill=org, draw=orgd}} \addlegendentry{Ova}
\addlegendimage{only marks, mark=triangle*, mark size=2.1pt, mark options={rotate=180, fill=ylw, draw=dkg}} \addlegendentry{Ova-IC}
\end{axis}

\node[rotate=90, font=\fs] at (95.5pt,-395pt) {pg/ml};
\begin{axis}[base, at={(109.15pt,-431.65pt)}, anchor=south west, width=32.35pt, height=73.3pt,
  xmin=0.5, xmax=1.5, ymin=0, ymax=30, ytick={0,5,...,30}, xtick={1}, xticklabels={IL-15}]
\addplot[ova, forget plot] coordinates {(0.8,5.2)(0.87,2.6)(0.78,2.2)(0.9,2.0)(0.83,1.6)(0.86,0.6)};
\addplot[ovaic, forget plot] coordinates {(1.2,25)(1.28,21)(1.14,20.3)(1.22,16)(1.16,13)(1.26,12)(1.12,11)(1.3,11.2)(1.2,10.5)(1.24,9.5)(1.18,5.7)};
\addplot[meanbar, mark size=3.4pt, forget plot] coordinates {(0.84,2.3)+-(0,0.7) (1.2,14.2)+-(0,1.8)};
\draw[black, line width=0.5pt] (axis cs:0.75,27.3) -- (axis cs:1.3,27.3);
\node[sig] at (axis cs:1.02,27.3) {**};
\end{axis}

% ---------------- panel h ----------------
\node[rotate=90, font=\fs] at (165pt,-395pt) {pg/ml};
\begin{axis}[base, at={(179pt,-431.65pt)}, anchor=south west, width=70.5pt, height=69.15pt,
  xmin=0.43, xmax=2.44, ymin=0, ymax=40, ytick={0,10,...,40}, xtick={1,2},
  xticklabels={TNF$\alpha$, IL-1$\beta$},
  legend columns=2,
  legend style={at={(0.22,-0.193)}, anchor=north west, /tikz/every even column/.append style={column sep=6pt}}]
\addplot[ova, forget plot] coordinates {(0.75,31.6)(0.76,7.6)(0.74,5.0) (1.74,0.6)(1.82,1.4)(1.88,1.0)};
\addplot[ovaic, forget plot] coordinates {(1.12,25)(1.12,9.1)(1.12,3.8) (2.11,0.6)(2.18,1.5)(2.25,1.2)};
\addplot[meanbar, mark size=5pt, forget plot] coordinates {(0.72,14.5)+-(0,8.6) (1.12,12.6)+-(0,6.4)};
\addlegendimage{only marks, mark=*, mark size=1.9pt, mark options={fill=org, draw=orgd}} \addlegendentry{Ova}
\addlegendimage{only marks, mark=triangle*, mark size=2.1pt, mark options={rotate=180, fill=ylw, draw=dkg}} \addlegendentry{Ova-IC}
\end{axis}

\end{tikzpicture}
\end{document}
